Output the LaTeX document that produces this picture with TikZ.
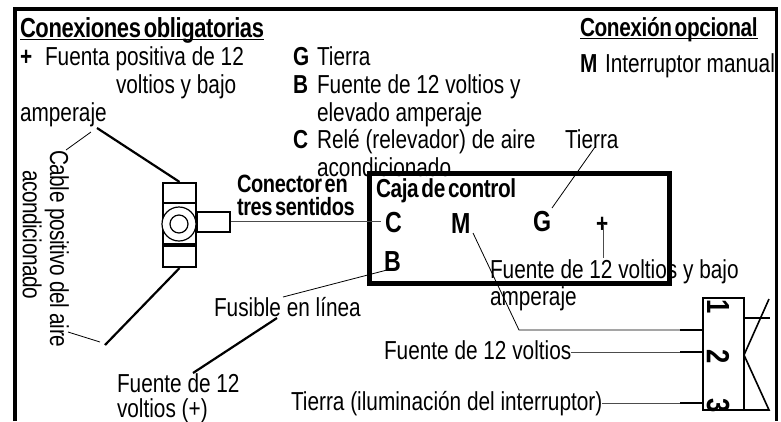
\documentclass[tikz,border=0pt]{standalone}
\usepackage{fontspec}
\setmainfont[FakeStretch=0.80,BoldFeatures={LetterSpace=-1.5,WordSpace=0.5}]{Liberation Sans}
\tikzset{
  lbl/.style={anchor=base west,inner sep=0pt,outer sep=0pt,font=\fontsize{26}{26}\selectfont},
  bold/.style={lbl,font=\fontsize{26}{26}\selectfont\bfseries},
  boldsmall/.style={lbl,font=\fontsize{25}{25}\selectfont\bfseries},
  headbig/.style={lbl,font=\fontsize{27.5}{27.5}\selectfont\bfseries},
  boldbig/.style={lbl,font=\fontsize{29}{29}\selectfont\bfseries},
  vert/.style={lbl,rotate=-90,font=\fontsize{26}{26}\selectfont\addfontfeature{LetterSpace=-1.5}},
  num/.style={anchor=center,inner sep=0pt,rotate=-90,font=\fontsize{32}{32}\selectfont\bfseries},
  thin line/.style={draw=black,line width=0.8pt},
  grey line/.style={draw=black!70,line width=1pt},
  thick line/.style={draw=black,line width=2.2pt},
  part/.style={draw=black,line width=2.2pt,fill=white},
  frameline/.style={draw=black,line width=3.6pt},
  controlbox/.style={draw=black,line width=5pt}
}
\begin{document}
\begin{tikzpicture}[x=1pt,y=-1pt]
\useasboundingbox[fill=white] (0,0) rectangle (781,421);
\coordinate (fa) at (15,421); \coordinate (fb) at (15,9);
\coordinate (fc) at (776.5,9); \coordinate (fd) at (776.5,421);
\draw[frameline] (fa) -- (fb) -- (fc) -- (fd);

% headings
\node[headbig] (h1) at (20,37) {Conexiones obligatorias};
\draw[line width=1pt] (20,39.5) -- (264,39.5);
\node[bold] (h2) at (580,36) {Conexión opcional};
\draw[line width=1pt] (580,38.5) -- (758,38.5);

% legend
\node[bold] (plus) at (20,65) {+};
\node[lbl] (l1) at (45,65) {Fuenta positiva de 12};
\node[lbl] (l2) at (116,93) {voltios y bajo};
\node[lbl] (l3) at (20,121) {amperaje};
\node[bold] (g) at (293,65) {G};
\node[lbl] (g1) at (317,65) {Tierra};
\node[bold] (b) at (293,93) {B};
\node[lbl] (b1) at (317,93) {Fuente de 12 voltios y};
\node[lbl] (b2) at (317,121) {elevado amperaje};
\node[bold] (c) at (293,148) {C};
\node[lbl] (c1) at (317,148) {Relé (relevador) de aire};
\node[lbl] (c2) at (317,176) {acondicionado};
\node[bold] (m) at (580,72) {M};
\node[lbl] (m1) at (605,72) {Interruptor manual};

% control box
\coordinate (boxa) at (369.5,173); \coordinate (boxb) at (669.5,283);
\draw[controlbox] (boxa) rectangle (boxb);
\node[bold] (caja) at (376,197) {Caja de control};
\node[boldsmall] (con1) at (237,192) {Conector en};
\node[boldsmall] (con2) at (237,215) {tres sentidos};
\node[boldbig] (tc) at (385,232) {C};
\node[boldbig] (tm) at (451,233) {M};
\node[boldbig] (tg) at (533,231) {G};
\node[boldbig] (tb) at (384,271) {B};
\node[bold] (tp) at (596,232) {+};

% connector
\node[part,minimum width=33pt,minimum height=42pt,inner sep=0pt] (body) at (179.5,224) {};
\node[part,minimum width=33pt,minimum height=20pt,inner sep=0pt] (top) at (179.5,193) {};
\node[part,minimum width=33pt,minimum height=22pt,inner sep=0pt] (bot) at (179.5,256) {};
\draw[line width=4pt] (163,245) -- (196,245);
\node[circle,draw=black,line width=1.2pt,fill=white,minimum size=34pt,inner sep=0pt] (ring) at (179,224) {};
\node[circle,draw=black,line width=1.2pt,minimum size=18pt,inner sep=0pt] (hub) at (179,224) {};
\node[part,minimum width=33pt,minimum height=20pt,inner sep=0pt] (side) at (213.5,222) {};
\draw[grey line] (side.east |- 0,221) -- (381,221);

% cable labels
\node[vert] (cab1) at (50,150) {Cable positivo del aire};
\node[vert] (cab2) at (23,170) {acondicionado};
\coordinate (ca) at (97,128); \coordinate (cb) at (105,345);
\coordinate (ta) at (91,132); \coordinate (tb2) at (66,150);
\coordinate (ua) at (68,332); \coordinate (ub) at (100,342);
\draw[thick line] (ca) -- (top.north);
\draw[thick line] (bot.south) -- (cb);
\draw[thin line] (ta) -- (tb2);
\draw[thin line] (ua) -- (ub);

% fuse
\node[lbl] (fus) at (214,316) {Fusible en línea};
\coordinate (fu1) at (283,297); \coordinate (fu2) at (387,270);
\draw[thin line] (fu1) -- (fu2);
\coordinate (fu3) at (277,318); \coordinate (fu4) at (193,373);
\draw[thick line] (fu3) -- (fu4);
\node[lbl] (f1) at (117,392) {Fuente de 12};
\node[lbl] (f2) at (117,417) {voltios (+)};

% ground
\node[lbl] (tie) at (565,148) {Tierra};
\coordinate (tg1) at (595,147); \coordinate (tg2) at (552,208);
\draw[thin line] (tg1) -- (tg2);

% plus feed
\coordinate (p1) at (603.5,224); \coordinate (p2) at (603.5,258);
\draw[grey line] (p1) -- (p2);
\node[lbl] (lo1) at (490,278) {Fuente de 12 voltios y bajo};
\node[lbl] (lo2) at (490,305) {amperaje};

% switch
\node[draw=black,line width=1.6pt,minimum width=41pt,minimum height=112pt,inner sep=0pt] (sw) at (723.5,354) {};
\node[num] (n1) at (718,307) {1};
\node[num] (n2) at (718,357) {2};
\node[num] (n3) at (718,406) {3};
\coordinate (mk) at (473,233); \coordinate (ml) at (519,330); \coordinate (mn) at (680,330);
\draw[thin line] (mk) -- (ml) -- (mn);
\draw[line width=1.8pt] (mn) -- (703,330);
\node[lbl] (f12) at (384,359) {Fuente de 12 voltios};
\coordinate (sn) at (680,352);
\draw[grey line] (f12.base east |- 0,352) -- (sn);
\draw[line width=1.8pt] (sn) -- (703,352);
\node[lbl] (til) at (291,410) {Tierra (iluminación del interruptor)};
\coordinate (tn) at (680,403);
\draw[grey line] (til.base east |- 0,403) -- (tn);
\draw[line width=1.8pt] (tn) -- (703,403);
\coordinate (r1) at (744,318); \coordinate (r2) at (770,318);
\coordinate (d1) at (769,299); \coordinate (d2) at (744,355); \coordinate (d3) at (769,410); \coordinate (d4) at (744,410);
\draw[line width=1.6pt] (r1) -- (r2);
\draw[line width=1.6pt] (d1) -- (d2) -- (d3) -- (d4);
\end{tikzpicture}
\end{document}
